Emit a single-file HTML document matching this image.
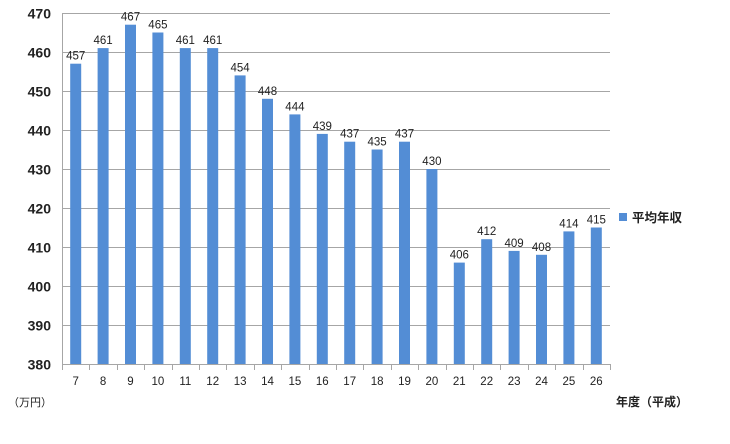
<!DOCTYPE html>
<html><head><meta charset="utf-8"><style>
html,body{margin:0;padding:0;background:#fff;}
svg text{font-family:"Liberation Sans","Noto Sans CJK JP",sans-serif;fill:#222;}
</style></head><body>
<svg width="730" height="439" xmlns="http://www.w3.org/2000/svg">
<g id="grid" stroke="#a6a6a6" stroke-width="1"></g>
<g id="bars"></g>
<text x="30" y="406" font-size="11" text-anchor="middle">（万円）</text>
<text x="652" y="406" font-size="12" text-anchor="middle" font-weight="bold">年度（平成）</text>
<rect x="619" y="213" width="8" height="8" fill="#538dd5"/>
<text x="632" y="222" font-size="12.5" font-weight="bold">平均年収</text>
<script>
var g=document.getElementById('grid'),b=document.getElementById('bars'),ns='http://www.w3.org/2000/svg';
function el(p,t,a,txt){var e=document.createElementNS(ns,t);for(var k in a)e.setAttribute(k,a[k]);if(txt!=null)e.textContent=txt;p.appendChild(e);return e;}
var L=62,R=610,T=13,B=364;
function y(v){return T+(470-v)*3.9;}
for(var v=380;v<=470;v+=10){var yy=Math.round(y(v))+0.5;el(g,'line',{x1:L,x2:R,y1:yy,y2:yy});
el(document.querySelector('svg'),'text',{x:51,y:yy+5,'font-size':14,'text-anchor':'end','font-weight':'bold',fill:'#333'},v);}
el(g,'line',{x1:L+0.5,x2:L+0.5,y1:T,y2:B});
var data=[457,461,467,465,461,461,454,448,444,439,437,435,437,430,406,412,409,408,414,415];
var w=(R-L)/20;
for(var i=0;i<=20;i++){var xx=Math.round(L+i*w)+0.5;el(g,'line',{x1:xx,x2:xx,y1:B,y2:B+6});}
data.forEach(function(d,i){var cx=L+w*(i+0.5);var top=y(d);
el(b,'rect',{x:cx-5.5,y:top,width:11,height:B-top,fill:'#538dd5'});
el(b,'text',{x:cx,y:top-4,'font-size':11.5,'text-anchor':'middle'},d);
el(b,'text',{x:cx,y:385,'font-size':11.5,'text-anchor':'middle'},i+7);});
</script>
</svg>
</body></html>
